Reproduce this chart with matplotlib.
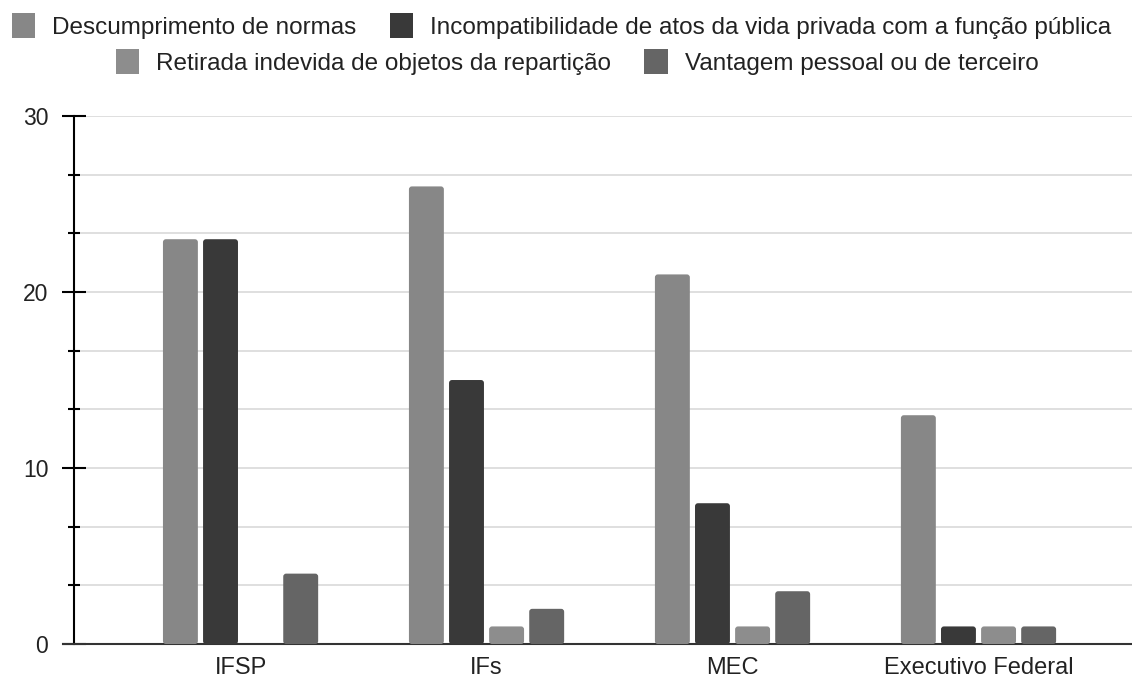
import numpy as np
import matplotlib.pyplot as plt
from matplotlib.patches import FancyBboxPatch, Patch
from matplotlib.ticker import MultipleLocator

plt.rcParams['font.family'] = ['Liberation Sans', 'DejaVu Sans']

# dados
categorias = ['IFSP', 'IFs', 'MEC', 'Executivo Federal']
series = ['Descumprimento de normas',
          'Incompatibilidade de atos da vida privada com a função pública',
          'Retirada indevida de objetos da repartição',
          'Vantagem pessoal ou de terceiro']
descumprimento = [23, 26, 21, 13]
incompatibilidade = [23, 15, 8, 1]
retirada = [0, 1, 1, 1]
vantagem = [4, 2, 3, 1]
cores = ['#878787', '#393939', '#8d8d8d', '#656565']

valores = [descumprimento, incompatibilidade, retirada, vantagem]

fig = plt.figure(figsize=(11.32, 6.8), dpi=100)
ax = fig.add_axes([0.0654, 0.0529, 0.9346, 0.7765])

x = np.arange(len(categorias))
largura = 0.142
passo = 0.163

for i, (vals, cor) in enumerate(zip(valores, cores)):
    pos = x + (i - 1.5) * passo
    barras = ax.bar(pos, vals, largura, color=cor, zorder=3)
    # cantos arredondados
    for b in barras:
        h = b.get_height()
        b.set_visible(False)
        if h <= 0:
            continue
        p = FancyBboxPatch((b.get_x(), 0), b.get_width(), h,
                           boxstyle='round,pad=0,rounding_size=0.012',
                           mutation_aspect=14, facecolor=cor,
                           edgecolor='none', zorder=3)
        ax.add_patch(p)

ax.set_xlim(-0.677, 3.624)
ax.set_ylim(0, 30)
ax.yaxis.set_major_locator(MultipleLocator(10))
ax.yaxis.set_minor_locator(MultipleLocator(10 / 3))
ax.grid(True, which='both', axis='y', color='#dcdcdc', linewidth=1.3, zorder=0)

ax.set_xticks(x)
ax.set_xticklabels(categorias)
ax.tick_params(axis='x', length=0, pad=9, labelsize=17, labelcolor='#222222')
ax.tick_params(axis='y', which='major', direction='inout', length=17,
               width=1.5, pad=10, labelsize=16.5, labelcolor='#222222')
ax.tick_params(axis='y', which='minor', direction='inout', length=8.5, width=1.5)

for s in ['top', 'right']:
    ax.spines[s].set_visible(False)
ax.spines['left'].set_linewidth(1.5)
ax.spines['bottom'].set_linewidth(1.5)
ax.spines['bottom'].set_color('#333333')
ax.spines['bottom'].set_bounds(-0.72, 3.624)
ax.spines['bottom'].set_clip_on(False)

proxies = [Patch(facecolor=c, edgecolor='none') for c in cores]
leg_kw = dict(frameon=False, fontsize=17.5, handlelength=0.95, handleheight=1.2,
              handletextpad=0.7, columnspacing=1.36, labelcolor='#222222',
              loc='center', borderpad=0, borderaxespad=0)
leg1 = fig.legend(proxies[:2], series[:2], ncol=2,
                  bbox_to_anchor=(0.496, 1 - 26 / 680), **leg_kw)
leg2 = fig.legend(proxies[2:], series[2:], ncol=2,
                  bbox_to_anchor=(0.51, 1 - 62 / 680), **leg_kw)

fig.savefig('out.png', dpi=100)
